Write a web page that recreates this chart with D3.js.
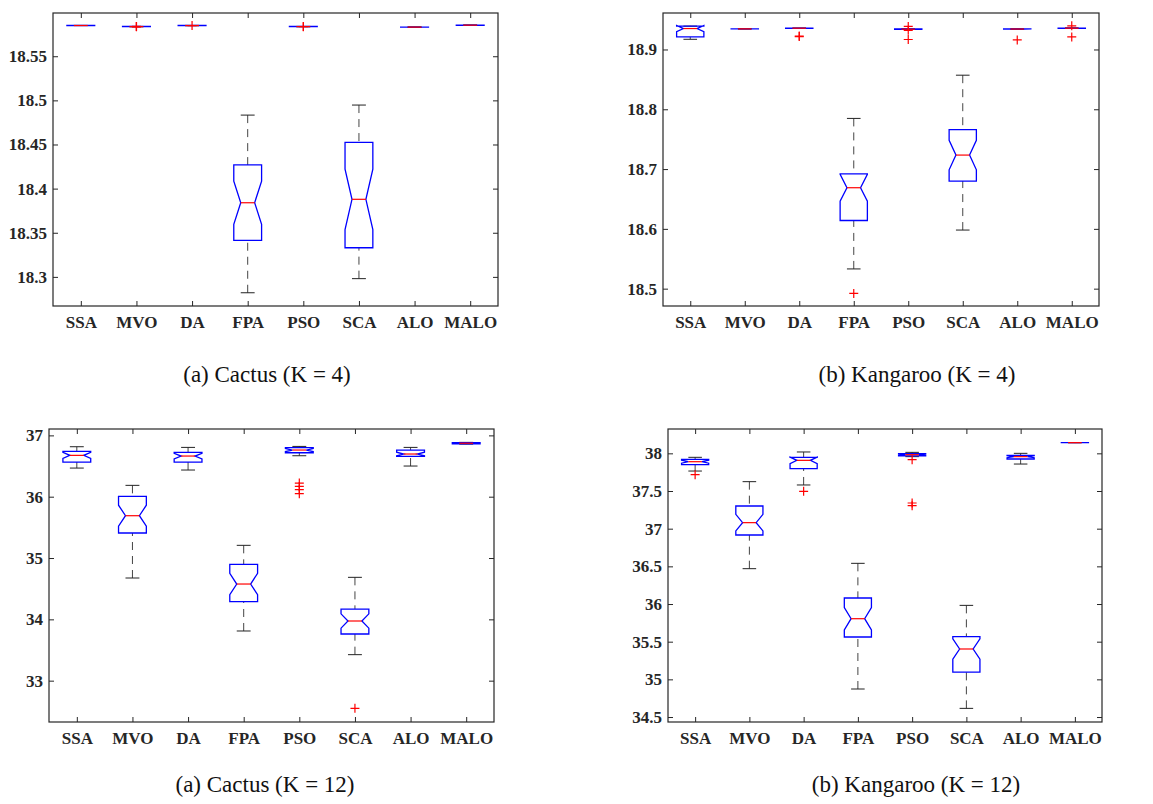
<!DOCTYPE html>
<html>
<head>
<meta charset="utf-8">
<script src="https://cdn.jsdelivr.net/npm/d3@7"></script>
<style>
  body { margin: 0; background: #fff; }
</style>
</head>
<body>
<div id="chart"></div>
<script>
const width = 1153;
const height = 804;
const n_runs = 30; // used for notch size
const serif = "'Liberation Serif', 'Times New Roman', Times, serif";

const methods = ["SSA", "MVO", "DA", "FPA", "PSO", "SCA", "ALO", "MALO"];

// (a) Cactus K = 4
const cactus4_lo = [18.5848, 18.5834, 18.5846, 18.282, 18.5834, 18.298, 18.5828, 18.5851];
const cactus4_q1 = [18.5848, 18.5835, 18.5847, 18.3413, 18.5835, 18.333, 18.5829, 18.5851];
const cactus4_med = [18.5848, 18.5836, 18.5848, 18.384, 18.5836, 18.3879, 18.583, 18.5852];
const cactus4_q3 = [18.5849, 18.5837, 18.5849, 18.4268, 18.5837, 18.4523, 18.5831, 18.5853];
const cactus4_hi = [18.5849, 18.5838, 18.5849, 18.4833, 18.5838, 18.4947, 18.5832, 18.5853];
const cactus4_out = [[], [18.5833, 18.5836, 18.5838], [18.5848], [], [18.5835, 18.5837], [], [], []];
const cactus4_ticks = [18.3, 18.35, 18.4, 18.45, 18.5, 18.55];

// (b) Kangaroo K = 4
const kangaroo4_lo = [18.917, 18.9343, 18.9352, 18.533, 18.9335, 18.598, 18.9338, 18.9352];
const kangaroo4_q1 = [18.921, 18.9344, 18.9354, 18.614, 18.9337, 18.68, 18.934, 18.9354];
const kangaroo4_med = [18.935, 18.9345, 18.9356, 18.6688, 18.934, 18.7234, 18.9342, 18.9356];
const kangaroo4_q3 = [18.939, 18.9346, 18.9357, 18.692, 18.9343, 18.766, 18.9344, 18.9358];
const kangaroo4_hi = [18.939, 18.9347, 18.9358, 18.7847, 18.9345, 18.857, 18.9345, 18.936];
const kangaroo4_out = [[], [], [18.9215, 18.9225], [18.492], [18.9385, 18.932, 18.9167], [], [18.916], [18.9395, 18.921]];
const kangaroo4_ticks = [18.5, 18.6, 18.7, 18.8, 18.9];

// (a) Cactus K = 12
const cactus12_lo = [36.467, 34.674, 36.435, 33.81, 36.668, 33.424, 36.5, 36.858];
const cactus12_q1 = [36.565, 35.408, 36.565, 34.288, 36.717, 33.761, 36.658, 36.862];
const cactus12_med = [36.674, 35.69, 36.663, 34.576, 36.761, 33.973, 36.696, 36.872];
const cactus12_q3 = [36.739, 36.005, 36.723, 34.897, 36.8, 34.168, 36.761, 36.882];
const cactus12_hi = [36.815, 36.185, 36.804, 35.207, 36.82, 34.685, 36.804, 36.886];
const cactus12_out = [[], [], [], [], [36.223, 36.168, 36.114, 36.049], [32.549], [], []];
const cactus12_ticks = [33, 34, 35, 36, 37];

// (b) Kangaroo K = 12
const kangaroo12_lo = [37.765, 36.469, 37.58, 34.872, 37.956, 34.615, 37.858, 38.141];
const kangaroo12_q1 = [37.85, 36.916, 37.796, 35.562, 37.965, 35.097, 37.925, 38.141];
const kangaroo12_med = [37.889, 37.08, 37.907, 35.805, 37.982, 35.403, 37.956, 38.142];
const kangaroo12_q3 = [37.92, 37.301, 37.947, 36.08, 37.996, 35.566, 37.973, 38.143];
const kangaroo12_hi = [37.947, 37.624, 38.018, 36.54, 38.013, 35.982, 38.0, 38.143];
const kangaroo12_out = [[37.717], [], [37.496], [], [37.916, 37.341, 37.305], [], [], []];
const kangaroo12_ticks = [34.5, 35, 35.5, 36, 36.5, 37, 37.5, 38];

const captions = ["(a) Cactus (K = 4)", "(b) Kangaroo (K = 4)", "(a) Cactus (K = 12)", "(b) Kangaroo (K = 12)"];

// panel frames + y domains (layout)
const panels = [
  { box: [53, 13, 498, 306], domain: [18.267, 18.599], lo: cactus4_lo, q1: cactus4_q1, med: cactus4_med, q3: cactus4_q3, hi: cactus4_hi, out: cactus4_out, ticks: cactus4_ticks, cap: captions[0], capX: 267, capY: 382 },
  { box: [663, 13, 1099, 306], domain: [18.471, 18.961], lo: kangaroo4_lo, q1: kangaroo4_q1, med: kangaroo4_med, q3: kangaroo4_q3, hi: kangaroo4_hi, out: kangaroo4_out, ticks: kangaroo4_ticks, cap: captions[1], capX: 917, capY: 382 },
  { box: [49, 429, 494, 722], domain: [32.326, 37.104], lo: cactus12_lo, q1: cactus12_q1, med: cactus12_med, q3: cactus12_q3, hi: cactus12_hi, out: cactus12_out, ticks: cactus12_ticks, cap: captions[2], capX: 265, capY: 792 },
  { box: [668, 429, 1102, 722], domain: [34.434, 38.323], lo: kangaroo12_lo, q1: kangaroo12_q1, med: kangaroo12_med, q3: kangaroo12_q3, hi: kangaroo12_hi, out: kangaroo12_out, ticks: kangaroo12_ticks, cap: captions[3], capX: 916, capY: 792 }
];

const svg = d3.select("#chart").append("svg")
  .attr("width", width)
  .attr("height", height);

const fmt = d3.format("~g");

panels.forEach(function (p) {
  const [x0, y0, x1, y1] = p.box;
  const x = d3.scalePoint().domain(methods).range([x0, x1]).padding(0.5);
  const y = d3.scaleLinear().domain(p.domain).range([y1, y0]);
  const step = x.step();
  const hw = step * 0.25; // half box width
  const g = svg.append("g");

  // axes (ticks inward on all four sides)
  const axes = [
    [d3.axisLeft(y), x0, 0, true],
    [d3.axisRight(y), x1, 0, false],
    [d3.axisBottom(x), 0, y1, true],
    [d3.axisTop(x), 0, y0, false]
  ];
  axes.forEach(function ([ax, tx, ty, labels]) {
    const isY = tx !== 0;
    if (isY) ax.tickValues(p.ticks).tickFormat(labels ? fmt : "");
    else ax.tickFormat(labels ? null : "");
    ax.tickSizeInner(-5).tickSizeOuter(0).tickPadding(isY ? 6 : 10);
    const a = g.append("g")
      .attr("transform", `translate(${tx},${ty})`)
      .call(ax)
      .attr("font-family", serif);
    a.select(".domain").remove();
    a.selectAll("line").attr("stroke", "#262626");
    a.selectAll("text")
      .attr("fill", "#262626")
      .style("font-family", serif)
      .style("font-size", "17px")
      .style("font-weight", "bold");
  });

  g.append("rect")
    .attr("x", x0).attr("y", y0)
    .attr("width", x1 - x0).attr("height", y1 - y0)
    .attr("fill", "none")
    .attr("stroke", "#262626")
    .attr("stroke-width", 1.2);

  methods.forEach(function (m, i) {
    const cx = x(m);
    const q1 = p.q1[i], q3 = p.q3[i], med = p.med[i];
    const notch = 1.57 * (q3 - q1) / Math.sqrt(n_runs);

    // whiskers
    [[p.hi[i], q3], [p.lo[i], q1]].forEach(function ([w, q]) {
      g.append("line")
        .attr("x1", cx).attr("x2", cx)
        .attr("y1", y(w)).attr("y2", y(q))
        .attr("stroke", "#444")
        .attr("stroke-dasharray", "8,6");
      g.append("line")
        .attr("x1", cx - hw / 2).attr("x2", cx + hw / 2)
        .attr("y1", y(w)).attr("y2", y(w))
        .attr("stroke", "#222");
    });

    // notched box
    const pts = [
      [cx - hw, y(q1)], [cx - hw, y(med - notch)], [cx - hw / 2, y(med)],
      [cx - hw, y(med + notch)], [cx - hw, y(q3)], [cx + hw, y(q3)],
      [cx + hw, y(med + notch)], [cx + hw / 2, y(med)], [cx + hw, y(med - notch)],
      [cx + hw, y(q1)]
    ];
    g.append("path")
      .attr("d", d3.line()(pts) + "Z")
      .attr("fill", "none")
      .attr("stroke", "#0000ff")
      .attr("stroke-width", 1.3);

    // median
    g.append("line")
      .attr("x1", cx - hw / 2).attr("x2", cx + hw / 2)
      .attr("y1", y(med)).attr("y2", y(med))
      .attr("stroke", "#ff0000")
      .attr("stroke-width", 1.2);

    // outliers
    p.out[i].forEach(function (v) {
      g.append("path")
        .attr("d", `M${cx - 4.5},${y(v)}H${cx + 4.5}M${cx},${y(v) - 4.5}V${y(v) + 4.5}`)
        .attr("stroke", "#ff0000")
        .attr("stroke-width", 1.2);
    });
  });

  // caption
  svg.append("text")
    .attr("x", p.capX)
    .attr("y", p.capY)
    .attr("text-anchor", "middle")
    .style("font-family", serif)
    .style("font-size", "23px")
    .attr("fill", "#111")
    .text(p.cap);
});
</script>
</body>
</html>
